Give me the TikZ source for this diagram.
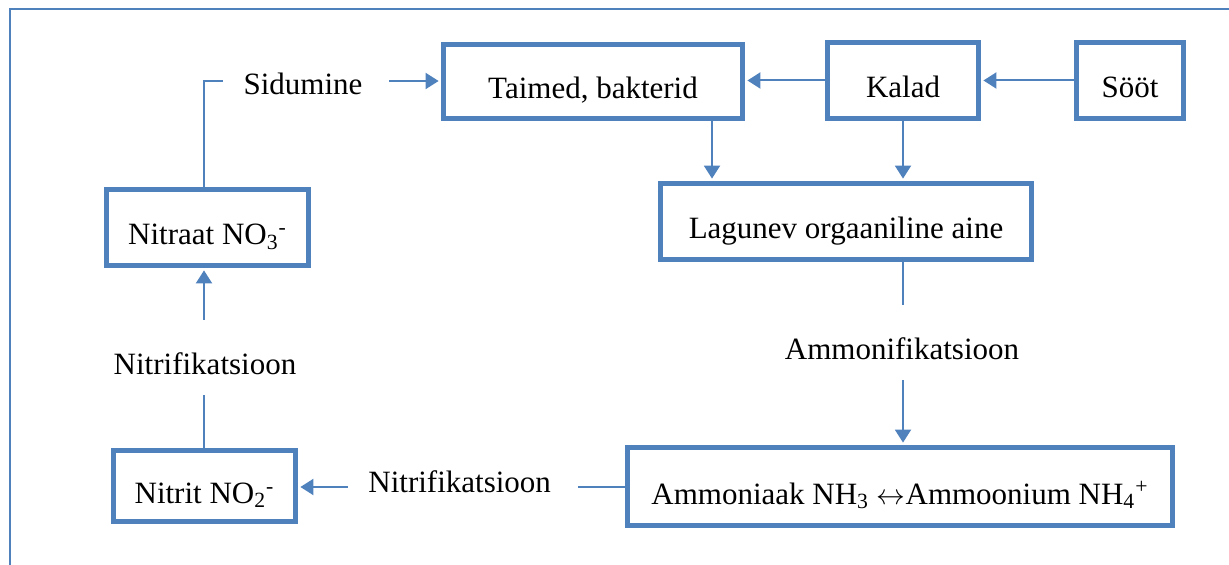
\documentclass[tikz,border=0pt]{standalone}
\usepackage{fontspec}
\setmainfont{Liberation Serif}
\usetikzlibrary{arrows.meta}
\definecolor{ofblue}{HTML}{4F81BD}
\begin{document}
\begin{tikzpicture}[x=0.5pt,y=-0.5pt,
  txt/.style={font=\fontsize{15.5}{18}\selectfont, inner sep=0pt},
  box/.style={draw=ofblue, line width=2.5pt, rectangle, inner sep=0pt,
    font=\fontsize{15.5}{18}\selectfont, text height=20pt, text depth=2.5pt},
  conn/.style={draw=ofblue, line width=1pt},
  arr/.style={conn, -{Triangle[length=6.5pt,width=8pt]}, shorten >=1.2pt},
  frame/.style={draw=ofblue, line width=1pt}]
\useasboundingbox (0,0) rectangle (1229,565);
\draw[frame] (10,565) -- (10,9) -- (1229,9);
% boxes
\node[box, minimum width=149.5pt, minimum height=37pt] (taimed) at (593,81.5) {Taimed, bakterid};
\node[box, minimum width=75.5pt, minimum height=38pt] (kalad) at (903,80.5) {Kalad};
\node[box, minimum width=53.5pt, minimum height=38pt] (soot) at (1130,80.5) {Sööt};
\node[box, minimum width=185.5pt, minimum height=38pt] (lagunev) at (846,221.5) {Lagunev orgaaniline aine};
\node[box, minimum width=272.5pt, minimum height=39pt] (ammon) at (900,486.5) {Ammoniaak NH\textsubscript{3} $\leftrightarrow$Ammoonium NH\textsubscript{4}\textsuperscript{+}};
\node[box, minimum width=101pt, minimum height=38pt] (nitraat) at (207.5,227.5) {Nitraat NO\textsubscript{3}\textsuperscript{-}};
\node[box, minimum width=91pt, minimum height=35.5pt] (nitrit) at (204.5,486) {Nitrit NO\textsubscript{2}\textsuperscript{-}};
% free texts
\node[txt, anchor=base] (sid) at (303,95) {Sidumine};
\node[txt, anchor=base] (ammonif) at (902,360) {Ammonifikatsioon};
\node[txt, anchor=base] (nitrif1) at (205,375) {Nitrifikatsioon};
\node[txt, anchor=base west] (nitrif2) at (368,493) {Nitrifikatsioon};
% coordinates
\coordinate (c1) at (204,81);
\coordinate (c2) at (223,81);
\coordinate (s1) at (389,81);
\coordinate (tx) at (712,150);
\coordinate (a1) at (903,305);
\coordinate (a2) at (903,380);
\coordinate (n1) at (578,487);
\coordinate (n2) at (348,487);
\coordinate (n3) at (204,395);
\coordinate (n4) at (204,320);
% connectors
\draw[conn] (c1 |- nitraat.north) -- (c1) -- (c2);
\draw[arr] (s1) -- (s1 -| taimed.west);
\draw[arr] (kalad.west) -- (kalad.west -| taimed.east);
\draw[arr] (soot.west) -- (soot.west -| kalad.east);
\draw[arr] (tx |- taimed.south) -- (tx |- lagunev.north);
\draw[arr] (kalad.south) -- (kalad.south |- lagunev.north);
\draw[conn] (a1 |- lagunev.south) -- (a1);
\draw[arr] (a2) -- (a2 |- ammon.north);
\draw[conn] (n1 -| ammon.west) -- (n1);
\draw[arr] (n2) -- (n2 -| nitrit.east);
\draw[conn] (n3 |- nitrit.north) -- (n3);
\draw[arr] (n4) -- (n4 |- nitraat.south);
\end{tikzpicture}
\end{document}
